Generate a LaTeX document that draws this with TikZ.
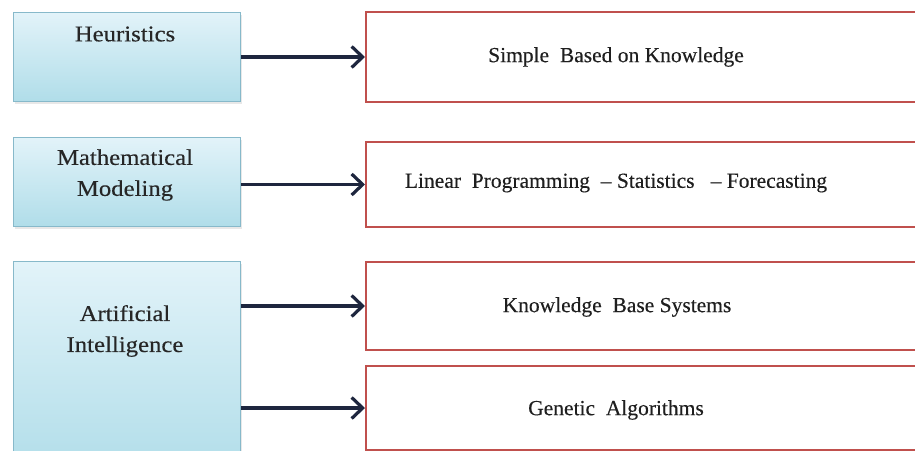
\documentclass[tikz,border=0pt]{standalone}
\usepackage{fontspec}
\setmainfont{Liberation Serif}[FakeBold=0.25]
\newfontfamily\leftfont[FakeStretch=1.1, FakeBold=0.3]{Liberation Serif}
\usetikzlibrary{arrows.meta,shadows}
\definecolor{navy}{RGB}{30,38,62}
\definecolor{boxred}{RGB}{192,80,77}
\definecolor{bluetop}{RGB}{226,243,249}
\definecolor{bluebot}{RGB}{176,221,233}
\definecolor{blueedge}{RGB}{135,185,202}
\tikzset{
  catbox/.style={rectangle, anchor=north west, draw=blueedge, line width=1.2pt,
    top color=bluetop, bottom color=bluebot, inner sep=0pt,
    drop shadow={opacity=0.18, shadow xshift=1.5pt, shadow yshift=-2pt}},
  resbox/.style={rectangle, anchor=north west, draw=boxred, line width=2pt, fill=white, inner sep=0pt},
  catlbl/.style={font=\leftfont\fontsize{22.5}{31}\selectfont, align=center, text=black!85, inner sep=0pt},
  reslbl/.style={font=\fontsize{21.5}{25}\selectfont, text=black!88, inner sep=0pt},
  arr/.style={draw=navy, line width=3.2pt, -{Straight Barb[length=11pt, width=21pt, line width=3.2pt]}}
}
\begin{document}
\begin{tikzpicture}[x=1pt, y=-1pt]
\useasboundingbox (0,0) rectangle (915,450);
\clip (0,0) rectangle (915,450);
% left category boxes
\node[catbox, minimum width=227pt, minimum height=89pt] (heur) at (13,12) {};
\node[catbox, minimum width=227pt, minimum height=89pt] (math) at (13,137) {};
\node[catbox, minimum width=227pt, minimum height=215pt] (ai) at (13,261) {};
\node[catlbl] (heurT) at (125,34) {Heuristics};
\node[catlbl] (mathT) at (125,175) {Mathematical\\Modeling};
\node[catlbl] (aiT) at (125,331) {Artificial\\Intelligence};
% right result boxes
\node[resbox, minimum width=580pt, minimum height=90pt] (r1) at (365,11) {};
\node[resbox, minimum width=580pt, minimum height=85pt] (r2) at (365,141) {};
\node[resbox, minimum width=580pt, minimum height=88pt] (r3) at (365,261) {};
\node[resbox, minimum width=580pt, minimum height=84pt] (r4) at (365,365) {};
\node[reslbl] (r1T) at (616,57) {Simple\ \ Based on Knowledge};
\node[reslbl] (r2T) at (616,183) {Linear\ \ Programming\ \ -- Statistics\ \ \ -- Forecasting};
\node[reslbl] (r3T) at (617,307) {Knowledge\ \ Base Systems};
\node[reslbl] (r4T) at (616,410) {Genetic\ \ Algorithms};
% arrows
\draw[arr] (heur.east |- r1.west) -- (r1.west);
\draw[arr] (math.east |- r2.west) -- (r2.west);
\draw[arr] (ai.east |- r3.west) -- (r3.west);
\draw[arr] (ai.east |- r4.west) -- (r4.west);
\end{tikzpicture}
\end{document}
